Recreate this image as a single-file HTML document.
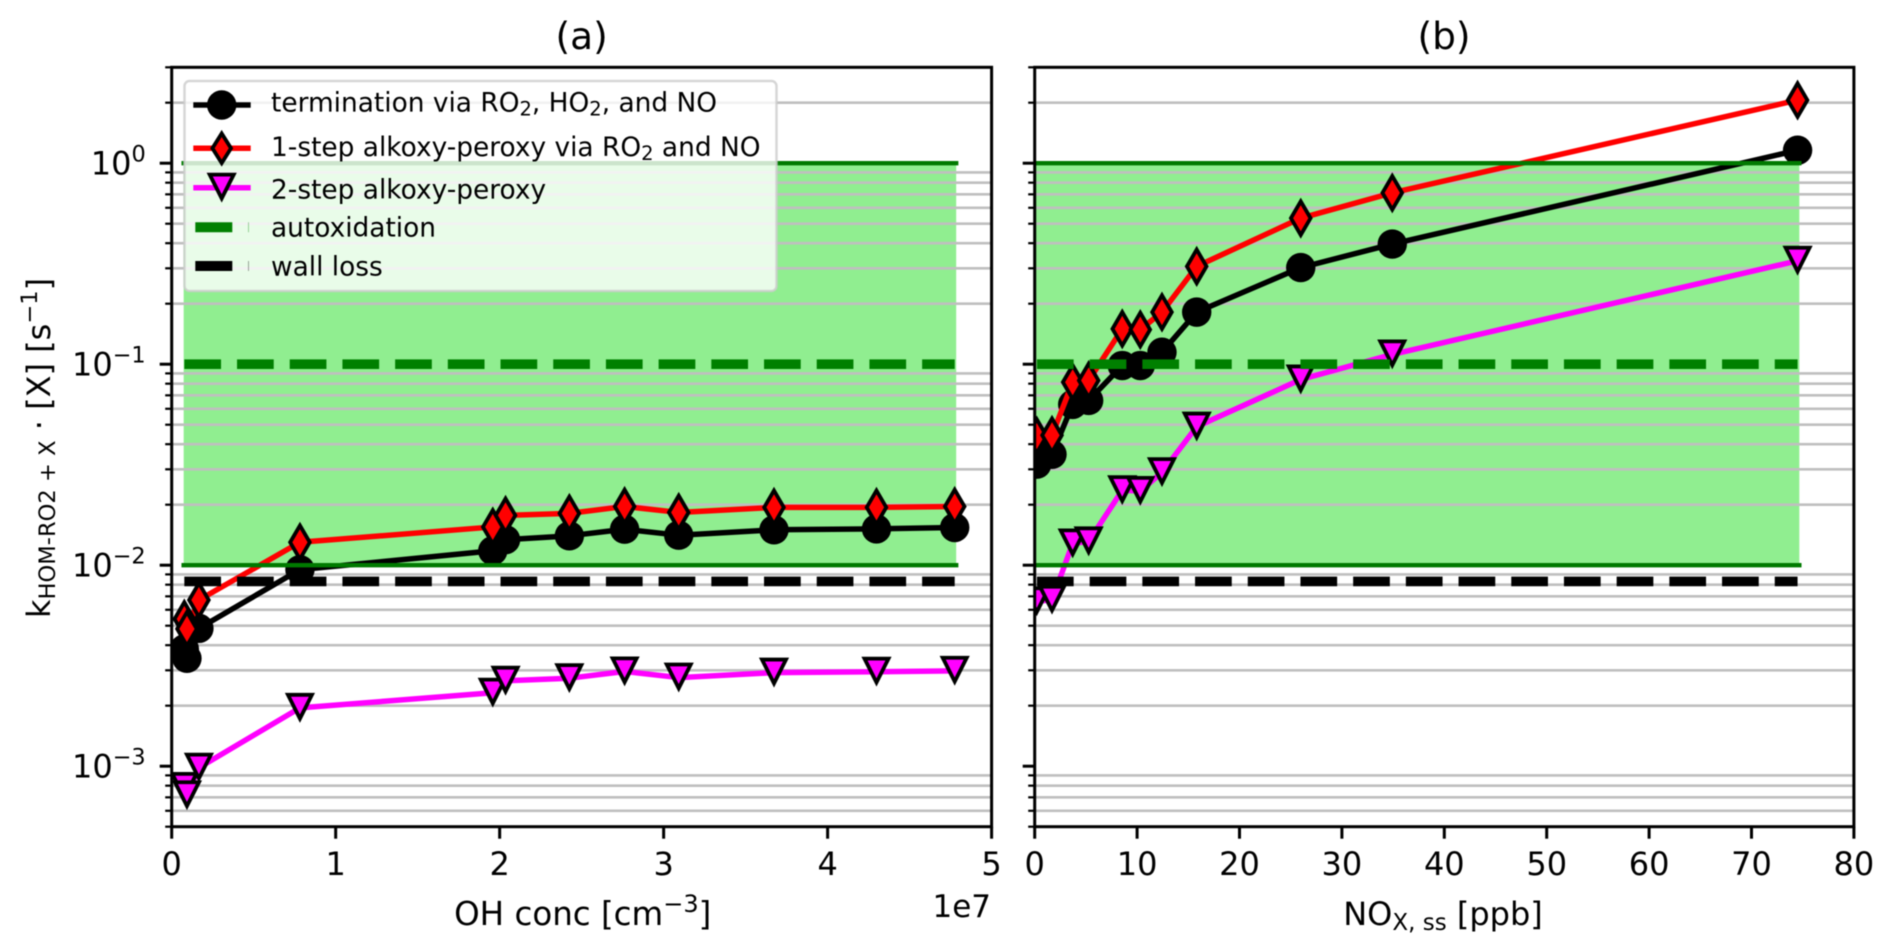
<!DOCTYPE html>
<html lang="en">
<head>
<meta charset="utf-8">
<title>HOM-RO2 termination rates vs OH and NOx</title>
<style>
html,body{margin:0;padding:0;background:#fff;}
svg{display:block;font-family:"DejaVu Sans","Liberation Sans",sans-serif;fill:#000;filter:blur(0.5px);}
.leg{font-size:26.4px;}
</style>
</head>
<body>
<svg id="chart" xmlns="http://www.w3.org/2000/svg" width="1892" height="949" viewBox="0 0 1892 949">
<defs>
<clipPath id="clip-a"><rect x="171.7" y="67.3" width="819.9" height="759.4"/></clipPath>
<clipPath id="clip-b"><rect x="1034.7" y="67.3" width="819.2" height="759.4"/></clipPath>
</defs>
<g id="panel-a"></g>
<g id="panel-b"></g>

<text x="581.6" y="49" text-anchor="middle" font-size="37.5">(a)</text>
<text x="1444" y="49" text-anchor="middle" font-size="37.5">(b)</text>

<text x="582.7" y="925" text-anchor="middle" font-size="32.5">OH conc [cm<tspan font-size="24" dy="-13">−3</tspan><tspan dy="13">]</tspan></text>
<text x="991" y="917" text-anchor="end" font-size="31">1e7</text>
<text x="1443" y="925" text-anchor="middle" font-size="32">NO<tspan font-size="23" dy="5">X, ss</tspan><tspan dy="-5"> [ppb]</tspan></text>
<text transform="translate(50,618) rotate(-90)" font-size="32">k<tspan font-size="22.6" dy="5">HOM-RO2 + X</tspan><tspan dy="-5"> · [X] [s</tspan><tspan font-size="22.6" dy="-13">−1</tspan><tspan dy="13">]</tspan></text>

<g>
<rect x="184.5" y="81" width="592" height="210" rx="5" ry="5" fill="#fff" fill-opacity="0.8" stroke="#ccc" stroke-opacity="0.8" stroke-width="2.5"/>
<g>
<line x1="193.3" x2="250.7" y1="105" y2="105" stroke="#000" stroke-width="5.5"/>
<circle cx="221.7" cy="105" r="14.7" fill="#000"/>
<text class="leg" x="271" y="111.7">termination via RO<tspan font-size="19.5" dy="4">2</tspan><tspan dy="-4">, HO</tspan><tspan font-size="19.5" dy="4">2</tspan><tspan dy="-4">, and NO</tspan></text>
</g>
<g>
<line x1="193.3" x2="250.7" y1="148.3" y2="148.3" stroke="#f00" stroke-width="5.5"/>
<path d="M221.7 133.5 L231 148.3 L221.7 163.1 L212.4 148.3 Z" fill="#f00" stroke="#000" stroke-width="3.8"/>
<text class="leg" x="271" y="156">1-step alkoxy-peroxy via RO<tspan font-size="19.5" dy="4">2</tspan><tspan dy="-4"> and NO</tspan></text>
</g>
<g>
<line x1="193.3" x2="250.7" y1="187.7" y2="187.7" stroke="#f0f" stroke-width="5.5"/>
<path d="M209.7 174.6 L233.7 174.6 L221.7 198.4 Z" fill="#f0f" stroke="#000" stroke-width="3.8" stroke-miterlimit="10"/>
<text class="leg" x="271" y="198.3">2-step alkoxy-peroxy</text>
</g>
<g>
<line x1="195.3" x2="232.3" y1="227.3" y2="227.3" stroke="#008000" stroke-width="10"/>
<line x1="248" x2="249" y1="227.3" y2="227.3" stroke="#008000" stroke-width="10" stroke-opacity="0.35"/>
<text class="leg" x="271" y="236.7">autoxidation</text>
</g>
<g>
<line x1="195.3" x2="232.3" y1="266" y2="266" stroke="#000" stroke-width="10"/>
<line x1="248" x2="249" y1="266" y2="266" stroke="#000" stroke-width="10" stroke-opacity="0.35"/>
<text class="leg" x="271" y="275.7">wall loss</text>
</g>
</g>
</svg>

<script>
// ---- chart data ----
const yLimits = [5e-4, 3];
const yDecadeExponents = [-3, -2, -1, 0];
const minorMultipliers = [2, 3, 4, 5, 6, 7, 8, 9];
const minorDecades = [-4, -3, -2, -1, 0];

const xLimitsA = [0, 5];
const xTicksA = [0, 1, 2, 3, 4, 5];
const oh = [0.077, 0.093, 0.166, 0.782, 1.958, 2.036, 2.425, 2.762, 3.092, 3.673, 4.298, 4.775];
const terminationA = [0.00383, 0.00344, 0.00485, 0.0095, 0.0118, 0.0134, 0.0140, 0.0151, 0.0141, 0.0150, 0.01516, 0.0154];
const oneStepA = [0.0054, 0.00482, 0.00671, 0.0130, 0.0155, 0.0177, 0.0181, 0.0196, 0.0183, 0.0194, 0.0194, 0.0196];
const twoStepA = [0.000788, 0.000716, 0.000983, 0.00195, 0.00232, 0.00266, 0.00274, 0.00296, 0.00276, 0.00292, 0.00295, 0.00298];

const xLimitsB = [0, 80];
const xTicksB = [0, 10, 20, 30, 40, 50, 60, 70, 80];
const nox = [0.2, 1.69, 3.71, 5.27, 8.55, 10.31, 12.43, 15.82, 25.98, 34.92, 74.5];
const terminationB = [0.0318, 0.0356, 0.0631, 0.0660, 0.0985, 0.0985, 0.1147, 0.1816, 0.3024, 0.396, 1.16];
const oneStepB = [0.0439, 0.0443, 0.0814, 0.083, 0.1499, 0.1487, 0.1816, 0.3067, 0.5327, 0.712, 2.06];
const twoStepB = [0.00661, 0.00673, 0.01283, 0.01313, 0.0236, 0.0234, 0.029, 0.0489, 0.0839, 0.1118, 0.327];

const autoxidationRange = [0.01, 0.1, 1];
const wallLoss = [0.0083];
const bandXA = [0.073, 4.784];
const bandXB = [0, 74.67];
const refXA = [0.077, 4.775];
const refXB = [0.22, 74.5];

// ---- helpers ----
const NS = 'http://www.w3.org/2000/svg';
const TOP = 67.3, BOTTOM = 826.7;
function make(tag, attrs, parent) {
  const n = document.createElementNS(NS, tag);
  for (const k in attrs) n.setAttribute(k, attrs[k]);
  parent.appendChild(n);
  return n;
}
function yScale(v) {
  const lo = Math.log10(yLimits[0]), hi = Math.log10(yLimits[1]);
  return BOTTOM - (Math.log10(v) - lo) / (hi - lo) * (BOTTOM - TOP);
}
function linear(domain, x0, x1) {
  return v => x0 + (v - domain[0]) / (domain[1] - domain[0]) * (x1 - x0);
}
function diamond(x, y) {
  const w = 9.8, h = 16.8;
  return `M${x} ${y - h} L${x + w} ${y} L${x} ${y + h} L${x - w} ${y} Z`;
}
function triangle(x, y) {
  return `M${x - 12} ${y - 13.1} L${x + 12} ${y - 13.1} L${x} ${y + 10.7} Z`;
}

function drawPanel(cfg) {
  const root = document.getElementById(cfg.id);
  const xs = linear(cfg.xLim, cfg.x0, cfg.x1);
  const clipped = make('g', { 'clip-path': 'url(#' + cfg.clip + ')' }, root);

  // shaded autoxidation band
  const bx0 = xs(cfg.bandX[0]), bx1 = xs(cfg.bandX[1]);
  const yHi = yScale(autoxidationRange[2]), yLo = yScale(autoxidationRange[0]);
  const band = make('rect', { x: bx0, y: yHi, width: bx1 - bx0, height: yLo - yHi, fill: '#90ee90' }, clipped);
  
  

  // minor grid
  const grid = make('g', { stroke: '#bfbfbf', 'stroke-width': 2.6 }, clipped);
  
  
  minorDecades.forEach(d => minorMultipliers.forEach(m => {
    const v = m * Math.pow(10, d);
    if (v < yLimits[0] || v > yLimits[1]) return;
    const y = yScale(v);
    make('line', { x1: cfg.x0, x2: cfg.x1, y1: y, y2: y }, grid);
  }));

  // series
  cfg.series.forEach(s => {
    const g = make('g', {}, clipped);
    
    
    const pts = s.values.map((v, i) => [xs(cfg.x[i]), yScale(v)]);
    make('polyline', { points: pts.map(p => p.join(',')).join(' '), fill: 'none', stroke: s.color, 'stroke-width': 5.5, 'stroke-linejoin': 'round' }, g);
    pts.forEach(p => {
      let mark;
      if (s.marker === 'circle') mark = make('circle', { cx: p[0], cy: p[1], r: 14.7, fill: '#000' }, g);
      if (s.marker === 'diamond') mark = make('path', { d: diamond(p[0], p[1]), fill: s.color, stroke: '#000', 'stroke-width': 3.8 }, g);
      if (s.marker === 'triangle') mark = make('path', { d: triangle(p[0], p[1]), fill: s.color, stroke: '#000', 'stroke-width': 3.8, 'stroke-miterlimit': 10 }, g);
      
      
    });
  });

  // band edges and reference dashes
  [autoxidationRange[0], autoxidationRange[2]].forEach(v => {
    const edge = make('line', { x1: bx0, x2: bx1, y1: yScale(v), y2: yScale(v), stroke: '#007a00', 'stroke-width': 4.4, 'stroke-linecap': 'square' }, clipped);
    
    
  });
  const rx0 = xs(cfg.refX[0]), rx1 = xs(cfg.refX[1]);
  const autoLine = make('line', { x1: rx0, x2: rx1, y1: yScale(autoxidationRange[1]), y2: yScale(autoxidationRange[1]), stroke: '#008000', 'stroke-width': 9.6, 'stroke-dasharray': '36.7 16' }, clipped);
  
  
  const wallLine = make('line', { x1: rx0, x2: rx1, y1: yScale(wallLoss[0]), y2: yScale(wallLoss[0]), stroke: '#000', 'stroke-width': 9.6, 'stroke-dasharray': '36.7 16' }, clipped);
  
  

  // frame
  const frame = make('rect', { x: cfg.x0, y: TOP, width: cfg.x1 - cfg.x0, height: BOTTOM - TOP, fill: 'none', stroke: '#000', 'stroke-width': 3 }, root);
  
  

  // x ticks
  const xAxis = make('g', {}, root);
  
  
  cfg.xTicks.forEach(t => {
    const x = xs(t);
    make('line', { x1: x, x2: x, y1: BOTTOM, y2: BOTTOM + 12, stroke: '#000', 'stroke-width': 3 }, xAxis);
    const label = make('text', { x: x, y: 875, 'text-anchor': 'middle', 'font-size': 32 }, xAxis);
    label.textContent = String(t);
    
    
  });

  // y ticks
  const yAxis = make('g', {}, root);
  
  
  minorDecades.forEach(d => minorMultipliers.forEach(m => {
    const v = m * Math.pow(10, d);
    if (v < yLimits[0] || v > yLimits[1]) return;
    const y = yScale(v);
    make('line', { x1: cfg.x0 - 6.5, x2: cfg.x0, y1: y, y2: y, stroke: '#000', 'stroke-width': 2.2 }, yAxis);
  }));
  yDecadeExponents.forEach(e => {
    const y = yScale(Math.pow(10, e));
    make('line', { x1: cfg.x0 - 12, x2: cfg.x0, y1: y, y2: y, stroke: '#000', 'stroke-width': 3 }, yAxis);
    if (!cfg.yLabels) return;
    const label = make('text', { x: cfg.x0 - 26, y: y + 11.5, 'text-anchor': 'end', 'font-size': 32 }, yAxis);
    
    
    const base = make('tspan', {}, label);
    base.textContent = '10';
    const sup = make('tspan', { 'font-size': 22.4, dy: -13 }, label);
    sup.textContent = (e < 0 ? '\u2212' : '') + Math.abs(e);
  });
}

drawPanel({
  id: 'panel-a', clip: 'clip-a', x0: 171.7, x1: 991.6,
  xLim: xLimitsA, xTicks: xTicksA, x: oh, bandX: bandXA, refX: refXA, yLabels: true,
  series: [
    { name: 'termination-series-a', values: terminationA, color: '#000', marker: 'circle' },
    { name: 'one-step-series-a', values: oneStepA, color: '#f00', marker: 'diamond' },
    { name: 'two-step-series-a', values: twoStepA, color: '#f0f', marker: 'triangle' }
  ]
});
drawPanel({
  id: 'panel-b', clip: 'clip-b', x0: 1034.7, x1: 1853.9,
  xLim: xLimitsB, xTicks: xTicksB, x: nox, bandX: bandXB, refX: refXB, yLabels: false,
  series: [
    { name: 'termination-series-b', values: terminationB, color: '#000', marker: 'circle' },
    { name: 'one-step-series-b', values: oneStepB, color: '#f00', marker: 'diamond' },
    { name: 'two-step-series-b', values: twoStepB, color: '#f0f', marker: 'triangle' }
  ]
});
</script>
</body>
</html>
